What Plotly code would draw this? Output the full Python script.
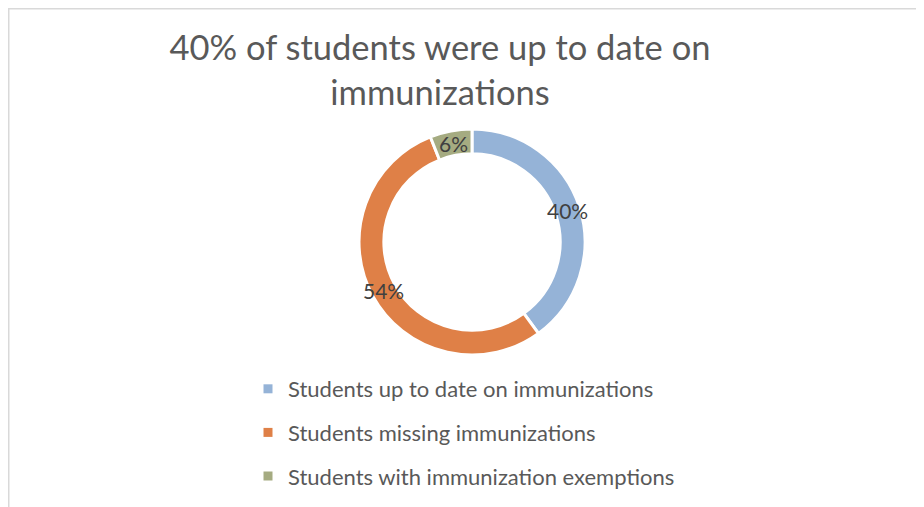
import math
import plotly.graph_objects as go

# ---- data ----
categories = ["Students up to date on immunizations",
              "Students missing immunizations",
              "Students with immunization exemptions"]
values = [40, 54, 6]
colors = ["#95B3D7", "#DF8047", "#A5AB81"]
title_text = "40% of students were up to date on<br>immunizations"

W, H = 924, 507
OFF = 8  # page body margin: figure pixels = screenshot pixels - OFF
# pie geometry (screenshot pixels)
cx, cy, R = 472.0 - OFF, 242.0 - OFF, 113.0
hole = 0.78

fig = go.Figure()
fig.add_trace(go.Pie(
    labels=categories, values=values, sort=False, direction="clockwise",
    rotation=0, hole=hole, textinfo="none", showlegend=False,
    marker=dict(colors=colors, line=dict(color="white", width=3)),
    domain=dict(x=[(cx - R) / W, (cx + R) / W], y=[1 - (cy + R) / H, 1 - (cy - R) / H]),
))

# legend entries (dummy traces so item spacing can match)
for i, (name, col) in enumerate(zip(categories, colors)):
    fig.add_trace(go.Scatter(x=[None], y=[None], mode="markers", name=name,
                             legendgroup=f"g{i}",
                             marker=dict(symbol="square", size=9, color=col)))

# data labels placed at the mid-angle of each slice, on the middle of the ring
total = sum(values)
cum = 0.0
rmid = R * (1 + hole) / 2
for v in values:
    mid = (cum + v / 2) / total * 2 * math.pi
    cum += v
    px = cx + rmid * math.sin(mid)
    py = cy - rmid * math.cos(mid)
    fig.add_annotation(x=px / W, y=1 - py / H, xref="paper", yref="paper",
                       xanchor="center", yanchor="middle",
                       text=f"{round(v / total * 100)}%", showarrow=False,
                       font=dict(size=21, color="#404040", family="Lato"))

fig.update_layout(
    width=W, height=H, margin=dict(l=0, r=0, t=0, b=0),
    paper_bgcolor="white", plot_bgcolor="white",
    font=dict(family="Lato", color="#595959"),
    title=dict(text=title_text, x=(440 - OFF) / W, xanchor="center",
               y=1 - (60 - OFF) / H, yanchor="middle", yref="container",
               font=dict(size=34.5, color="#595959", family="Lato")),
    xaxis=dict(visible=False), yaxis=dict(visible=False),
    legend=dict(x=(248 - OFF) / W, xanchor="left", y=1 - (368 - OFF) / H, yanchor="top",
                tracegroupgap=12, font=dict(size=22, color="#595959"),
                bgcolor="rgba(0,0,0,0)"),
    shapes=[dict(type="rect", xref="paper", yref="paper",
                 x0=0.5 / W, x1=1.2, y0=-0.2, y1=1 - 0.5 / H,
                 line=dict(color="#D9D9D9", width=2), layer="below")],
)

fig.write_html("out.html")
